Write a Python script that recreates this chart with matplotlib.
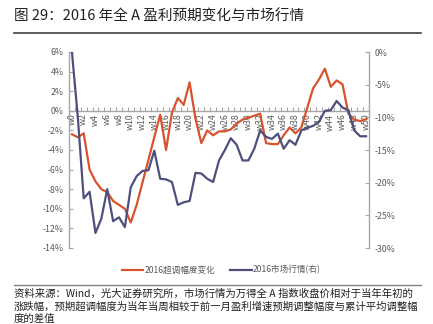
import numpy as np
import matplotlib
matplotlib.use("Agg")
import matplotlib.pyplot as plt
from matplotlib.lines import Line2D

plt.rcParams['font.family'] = ['Noto Sans CJK SC', 'DejaVu Sans']

WEEKS = ["w%d" % i for i in range(51)]

# 2016 超调幅度变化 (left axis, %)
OVERSHOOT = [-2.4, -2.7, -2.3, -6.0, -7.2, -8.0, -8.3, -9.2, -9.6, -10.0,
             -11.4, -9.6, -7.3, -5.0, -2.7, -0.4, -4.0, -0.2, 1.3, 0.6,
             2.9, -0.8, -3.3, -2.0, -2.5, -2.1, -2.1, -1.9, -1.3, -0.9,
             -0.7, -0.5, -0.3, -3.3, -3.4, -3.4, -2.5, -1.7, -2.3, -1.7,
             0.3, 2.3, 3.2, 4.3, 2.45, 3.1, 2.7, -0.3, -0.9, -1.05, -0.85]

# 2016 市场行情 (right axis, %)
MARKET = [0.0, -10.0, -22.4, -21.4, -27.7, -25.5, -21.0, -25.9, -25.3, -26.8,
          -20.7, -19.0, -18.2, -18.1, -15.1, -19.4, -19.5, -19.9, -23.4, -23.0,
          -22.8, -18.5, -18.6, -19.4, -19.9, -16.6, -15.0, -13.2, -14.2, -16.6,
          -16.6, -14.8, -12.0, -13.0, -13.3, -12.5, -14.8, -13.5, -14.2, -12.0,
          -11.6, -11.3, -10.7, -9.0, -8.9, -7.5, -8.5, -8.9, -12.0, -12.9, -12.9]

LEFT_TICKS = list(range(-14, 7, 2))
RIGHT_TICKS = list(range(-30, 1, 5))

RED = '#d6532e'
BLUE = '#4f4f7e'
GRAY = '#a6a6a6'
TXT = '#595959'

W, H = 433, 324
fig = plt.figure(figsize=(W / 100, H / 100), dpi=100)

ax = fig.add_axes([69 / W, 1 - 248 / H, 300 / W, 196 / H])
ax2 = ax.twinx()

x = np.arange(len(WEEKS))
ax.plot(x, OVERSHOOT, color=RED, lw=1.6, zorder=3)
ax2.plot(x, MARKET, color=BLUE, lw=1.6, zorder=3)

ax.set_xlim(-0.5, len(WEEKS) - 0.5)
ax.set_ylim(-14, 6)
ax2.set_ylim(-30, 0)

ax.set_yticks(LEFT_TICKS)
ax.set_yticklabels(["%d%%" % v for v in LEFT_TICKS])
ax2.set_yticks(RIGHT_TICKS)
ax2.set_yticklabels(["%d%%" % v for v in RIGHT_TICKS])

for a in (ax, ax2):
    a.spines['top'].set_visible(False)
    a.patch.set_visible(False)
ax.spines['right'].set_visible(False)
ax2.spines['left'].set_visible(False)
ax2.spines['bottom'].set_visible(False)
ax.spines['left'].set_color(GRAY)
ax2.spines['right'].set_color(GRAY)
ax.spines['bottom'].set_color(GRAY)
ax.spines['bottom'].set_position(('data', 0))
for s in ('left', 'bottom'):
    ax.spines[s].set_linewidth(1.0)
ax2.spines['right'].set_linewidth(1.0)

ax.tick_params(axis='y', direction='in', length=3, color=GRAY,
               labelsize=6.3, labelcolor=TXT, pad=4)
ax2.tick_params(axis='y', direction='in', length=3, color=GRAY,
                labelsize=6.3, labelcolor=TXT, pad=4)

# category boundaries as ticks, labels on every second category
ax.set_xticks(np.arange(-0.5, len(WEEKS), 1))
ax.set_xticklabels([])
ax.tick_params(axis='x', which='major', direction='in', length=3, color=GRAY)
ax.set_xticks(x[::2], minor=True)
ax.set_xticklabels(WEEKS[::2], minor=True, rotation=90, fontsize=6.3,
                   color=TXT, va='top', ha='center')
ax.tick_params(axis='x', which='minor', length=0, pad=2)

# title and rules
fig.text(14 / W, 1 - 17 / H, "图 29：2016 年全 A 盈利预期变化与市场行情",
         fontsize=10.5, color='#222222', va='center', ha='left')
fig.add_artist(Line2D([14 / W, 421 / W], [1 - 33 / H] * 2, color='#404040', lw=1.2))
fig.add_artist(Line2D([14 / W, 421 / W], [1 - 285 / H] * 2, color='#808080', lw=1.0))

# legend
ly = 1 - 270 / H
fig.add_artist(Line2D([122 / W, 143 / W], [ly, ly], color=RED, lw=1.6))
fig.text(145 / W, ly, "2016超调幅度变化", fontsize=6.2, color=TXT, va='center', ha='left')
fig.add_artist(Line2D([230 / W, 252 / W], [ly, ly], color=BLUE, lw=1.6))
fig.text(253 / W, ly, "2016市场行情(右)", fontsize=6.2, color=TXT, va='center', ha='left')

NOTE = ["资料来源：Wind，光大证券研究所，市场行情为万得全 A 指数收盘价相对于当年年初的",
        "涨跌幅，预期超调幅度为当年当周相较于前一月盈利增速预期调整幅度与累计平均调整幅",
        "度的差值"]
for k, line in enumerate(NOTE):
    fig.text(14 / W, 1 - (294 + 12.2 * k) / H, line, fontsize=7.5, color='#222222',
             va='center', ha='left')

fig.savefig("out.png", dpi=100)
